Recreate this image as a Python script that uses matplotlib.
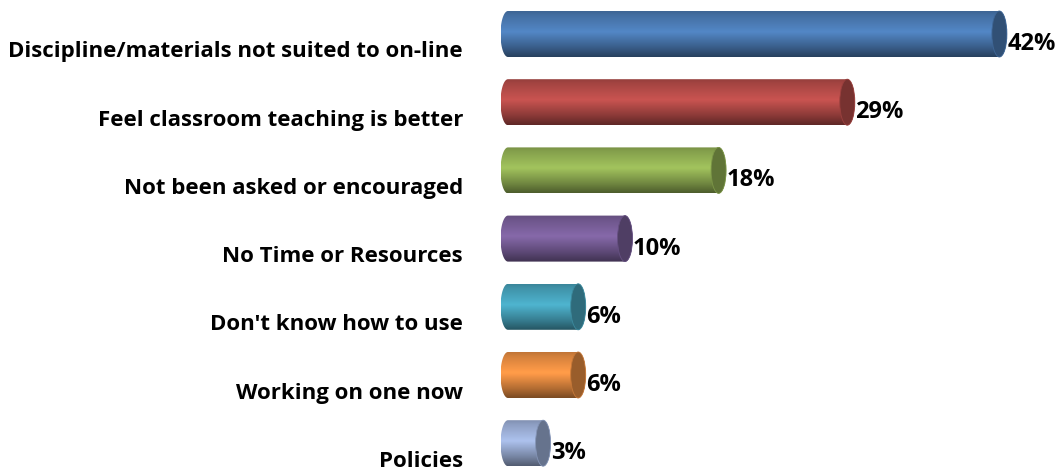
import numpy as np
import matplotlib
matplotlib.use("Agg")
import matplotlib.pyplot as plt
from matplotlib.patches import Polygon, Ellipse
from matplotlib.colors import to_rgb

categories = ["Discipline/materials not suited to on-line",
              "Feel classroom teaching is better",
              "Not been asked or encouraged",
              "No Time or Resources",
              "Don't know how to use",
              "Working on one now",
              "Policies"]
values = [42, 29, 18, 10, 6, 6, 3]
labels = ["42%", "29%", "18%", "10%", "6%", "6%", "3%"]
colors = ["#4F81BD", "#C0504D", "#9BBB59", "#8064A2", "#4BACC6", "#F79646", "#A5B9E3"]

W, H = 1060, 470
fig = plt.figure(figsize=(W / 100, H / 100), dpi=100)
px_per = 11.7
x0px = 508
ax_left_px = 400
ax = fig.add_axes([ax_left_px / W, 0, 1 - ax_left_px / W, 1])
xmin = (ax_left_px - x0px) / px_per
xmax = (W - x0px) / px_per
c0, step = 34, 68.2
ytop = (0 - c0) / step
ybot = (H - c0) / step
ax.set_xlim(xmin, xmax)
ax.set_ylim(ybot, ytop)
ax.axis("off")

a = 7.5 / px_per          # half cap width in data units
h = 46 / step             # bar thickness in data units

# vertical shading profile
prof_t = np.array([0.0, 0.08, 0.45, 0.8, 1.0])
prof_f = np.array([0.78, 0.85, 1.05, 0.72, 0.5])
tt = np.linspace(0, 1, 64)
ff = np.interp(tt, prof_t, prof_f)

font = "Open Sans"
for i, (cat, v, lab, col) in enumerate(zip(categories, values, labels, colors)):
    c = i
    base = np.array(to_rgb(col))
    grad = np.clip(ff[:, None] * base[None, :], 0, 1)[:, None, :]
    t = np.linspace(-np.pi / 2, np.pi / 2, 60)
    right = np.column_stack([v + a * np.cos(t), c + h / 2 * np.sin(t)])
    left = np.column_stack([0 - a * np.cos(t), c - h / 2 * np.sin(t)])
    pts = np.vstack([right, left])
    poly = Polygon(pts, closed=True, facecolor="none", edgecolor="none")
    ax.add_patch(poly)
    im = ax.imshow(grad, extent=(-a, v + a, c + h / 2, c - h / 2), origin="upper",
                   aspect="auto", interpolation="bicubic", zorder=2)
    im.set_clip_path(poly)
    cap = Ellipse((v, c), 2 * a, h, facecolor=np.clip(base * 0.62, 0, 1),
                  edgecolor=np.clip(base * 0.8, 0, 1), lw=0.6, zorder=3)
    ax.add_patch(cap)
    ax.text(v + a + 0.05, c + 10 / step, lab, ha="left", va="center",
            fontsize=17, fontweight="bold", family=font, zorder=4)
    fig.text(463 / W, 1 - (c0 + step * i + 18) / H, cat, ha="right", va="center",
             fontsize=16, fontweight="bold", family=font)

ax.set_xlim(xmin, xmax)
ax.set_ylim(ybot, ytop)
fig.savefig("out.png", dpi=100)
